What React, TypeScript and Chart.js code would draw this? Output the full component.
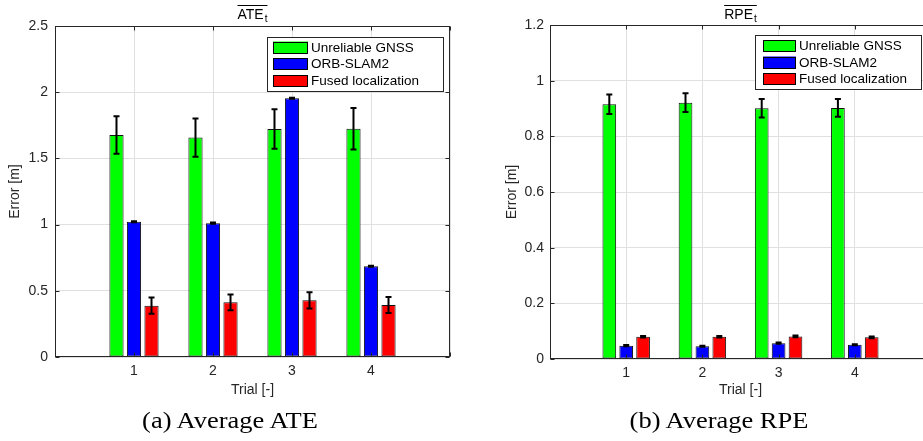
import React, { useEffect, useRef } from 'react';
import { Chart, registerables } from 'chart.js';
Chart.register(...registerables);

// ---------- data ----------
const trialPositions = [1, 2, 3, 4];
const trialLabels = ['1', '2', '3', '4'];
const seriesNames = ['Unreliable GNSS', 'ORB-SLAM2', 'Fused localization'];
const seriesColors = ['#00ff00', '#0000ff', '#ff0000'];

const ateGnss = [1.677, 1.657, 1.722, 1.724];
const ateGnssErr = [0.142, 0.145, 0.149, 0.156];
const ateOrb = [1.021, 1.011, 1.954, 0.685];
const ateOrbErr = [0.004, 0.004, 0.004, 0.004];
const ateFused = [0.388, 0.413, 0.428, 0.393];
const ateFusedErr = [0.061, 0.059, 0.061, 0.06];

const rpeGnss = [0.915, 0.921, 0.901, 0.902];
const rpeGnssErr = [0.035, 0.034, 0.033, 0.032];
const rpeOrb = [0.048, 0.046, 0.057, 0.051];
const rpeOrbErr = [0.002, 0.002, 0.002, 0.002];
const rpeFused = [0.08, 0.08, 0.081, 0.078];
const rpeFusedErr = [0.003, 0.003, 0.003, 0.003];

const ateYTicks = [0, 0.5, 1, 1.5, 2, 2.5];
const rpeYTicks = [0, 0.2, 0.4, 0.6, 0.8, 1, 1.2];

// ---------- styling ----------
const H = 441;
const SANS = '"Liberation Sans", Arial, sans-serif';
const AXIS = '#262626';
const GRID = '#e0e0e0';

type Geo = {
  canvasLeft: number;
  width: number;
  area: { left: number; right: number; top: number; bottom: number };
  yTickPad: number;
  yTitlePad: number;
  legend: { x: number; y: number; w: number; h: number; swatchX: number; swatchW: number; swatchH: number; textX: number; rows: number[] };
};

type PanelProps = {
  geo: Geo;
  title: string;
  sub: string;
  values: number[][];
  errors: number[][];
  yTicks: number[];
};

function Panel({ geo, title, sub, values, errors, yTicks }: PanelProps) {
  const ref = useRef<HTMLCanvasElement | null>(null);
  useEffect(() => {
    const canvas = ref.current;
    if (!canvas) return;
    const { area, legend } = geo;
    const yMin = yTicks[0];
    const yMax = yTicks[yTicks.length - 1];
    const yStep = yTicks[1] - yTicks[0];

    const matlab = {
      id: 'matlabDecor',
      afterDatasetsDraw(chart: any) {
        const ctx = chart.ctx;
        const ys = chart.scales.y;
        const xs = chart.scales.x;
        // error bars
        ctx.save();
        ctx.strokeStyle = '#000';
        ctx.lineWidth = 2;
        values.forEach((vals, s) => {
          const meta = chart.getDatasetMeta(s);
          meta.data.forEach((el: any, i: number) => {
            const v = vals[i];
            const e = errors[s][i];
            const x = el.x;
            const yt = ys.getPixelForValue(v + e);
            const yb = ys.getPixelForValue(v - e);
            ctx.beginPath();
            ctx.moveTo(x, yt);
            ctx.lineTo(x, yb);
            ctx.moveTo(x - 3, yt);
            ctx.lineTo(x + 3, yt);
            ctx.moveTo(x - 3, yb);
            ctx.lineTo(x + 3, yb);
            ctx.stroke();
          });
        });
        ctx.restore();

        // box and inward ticks
        const ca = chart.chartArea;
        const L = Math.round(ca.left) + 0.5;
        const R = Math.round(ca.right) - 0.5;
        const T = Math.round(ca.top) + 0.5;
        const B = Math.round(ca.bottom) - 0.5;
        ctx.save();
        ctx.strokeStyle = AXIS;
        ctx.lineWidth = 1;
        ctx.strokeRect(L, T, R - L, B - T);
        ctx.beginPath();
        xs.ticks.forEach((t: any) => {
          const px = Math.round(xs.getPixelForValue(t.value)) + 0.5;
          ctx.moveTo(px, B);
          ctx.lineTo(px, B - 4);
          ctx.moveTo(px, T);
          ctx.lineTo(px, T + 4);
        });
        ys.ticks.forEach((t: any) => {
          const py = Math.round(ys.getPixelForValue(t.value)) + 0.5;
          ctx.moveTo(L, py);
          ctx.lineTo(L + 4, py);
          ctx.moveTo(R, py);
          ctx.lineTo(R - 4, py);
        });
        ctx.stroke();
        ctx.restore();
      },
      afterDraw(chart: any) {
        const ctx = chart.ctx;
        // legend
        ctx.save();
        ctx.fillStyle = '#fff';
        ctx.fillRect(legend.x, legend.y, legend.w, legend.h);
        ctx.strokeStyle = AXIS;
        ctx.lineWidth = 1;
        ctx.strokeRect(legend.x + 0.5, legend.y + 0.5, legend.w - 1, legend.h - 1);
        ctx.font = '13.5px ' + SANS;
        ctx.textBaseline = 'middle';
        ctx.textAlign = 'left';
        seriesNames.forEach((name, s) => {
          const cy = legend.rows[s];
          ctx.fillStyle = seriesColors[s];
          ctx.fillRect(legend.swatchX, cy - legend.swatchH / 2, legend.swatchW, legend.swatchH);
          ctx.strokeStyle = '#000';
          ctx.strokeRect(legend.swatchX + 0.5, Math.round(cy - legend.swatchH / 2) + 0.5, legend.swatchW - 1, legend.swatchH - 1);
          ctx.fillStyle = '#000';
          ctx.fillText(name, legend.textX, cy + 0.5);
        });
        ctx.restore();

        // title with overline and subscript
        const ca = chart.chartArea;
        const cx = (ca.left + ca.right) / 2;
        ctx.save();
        ctx.fillStyle = '#000';
        ctx.textBaseline = 'alphabetic';
        ctx.textAlign = 'left';
        ctx.font = '14px ' + SANS;
        const wm = ctx.measureText(title).width;
        ctx.font = '10px ' + SANS;
        const ws = ctx.measureText(sub).width;
        const total = wm + ws + 1;
        const x0 = cx - total / 2;
        ctx.font = '14px ' + SANS;
        ctx.fillText(title, x0, 18.5);
        ctx.font = '10px ' + SANS;
        ctx.fillText(sub, x0 + wm + 1, 21.5);
        ctx.strokeStyle = '#000';
        ctx.lineWidth = 1;
        ctx.beginPath();
        ctx.moveTo(x0, 5.5);
        ctx.lineTo(x0 + total, 5.5);
        ctx.stroke();
        ctx.restore();
      },
    };

    const chart = new Chart(canvas, {
      type: 'bar',
      data: {
        datasets: values.map((vals, s) => ({
          label: seriesNames[s],
          data: trialPositions.map((x, i) => ({ x, y: vals[i] })),
          backgroundColor: seriesColors[s],
          borderColor: '#111',
          borderWidth: 1,
          borderSkipped: false,
          categoryPercentage: 0.665,
          barPercentage: 0.81,
        })),
      },
      options: {
        responsive: false,
        animation: false,
        devicePixelRatio: 1,
        layout: { padding: { left: 0, top: area.top, right: geo.width - area.right, bottom: 42 } },
        plugins: { legend: { display: false }, tooltip: { enabled: false }, title: { display: false } },
        scales: {
          x: {
            type: 'linear',
            min: 0,
            max: 5,
            offset: false,
            grid: { color: GRID, offset: false, drawTicks: false, lineWidth: 1 },
            border: { display: false },
            ticks: {
              stepSize: 1,
              padding: 6,
              color: AXIS,
              autoSkip: false,
              maxRotation: 0,
              font: { family: SANS, size: 14 },
              callback: (v: any) => {
                const i = trialPositions.indexOf(Number(v));
                return i >= 0 ? trialLabels[i] : '';
              },
            },
            title: { display: true, text: 'Trial [-]', color: AXIS, font: { family: SANS, size: 14 }, padding: { top: 0, bottom: 0 } },
            afterFit: (s: any) => {
              s.height = H - 42 - area.bottom;
            },
          },
          y: {
            type: 'linear',
            min: yMin,
            max: yMax,
            grid: { color: GRID, drawTicks: false, lineWidth: 1 },
            border: { display: false },
            ticks: {
              stepSize: yStep,
              padding: geo.yTickPad,
              color: AXIS,
              font: { family: SANS, size: 14 },
              callback: (v: any) => String(+Number(v).toFixed(2)),
            },
            title: { display: true, text: 'Error [m]', color: AXIS, font: { family: SANS, size: 14 }, padding: { top: geo.yTitlePad, bottom: 0 } },
            afterFit: (s: any) => {
              s.width = area.left;
            },
          },
        },
      } as any,
      plugins: [matlab],
    });
    return () => chart.destroy();
  }, []);
  return (
    <canvas
      ref={ref}
      width={geo.width}
      height={H}
      style={{ position: 'absolute', left: geo.canvasLeft, top: 0, width: geo.width, height: H }}
    />
  );
}

const leftGeo: Geo = {
  canvasLeft: 0,
  width: 460,
  area: { left: 55, right: 450, top: 26, bottom: 357 },
  yTickPad: 7,
  yTitlePad: 6.6,
  legend: { x: 267, y: 37, w: 177, h: 55, swatchX: 273, swatchW: 35, swatchH: 12, textX: 311, rows: [47.5, 64, 81] },
};

const rightGeo: Geo = {
  canvasLeft: 490,
  width: 450,
  area: { left: 60, right: 441, top: 25, bottom: 359 },
  yTickPad: 6,
  yTitlePad: 13.6,
  legend: { x: 265, y: 35, w: 167, h: 55, swatchX: 273, swatchW: 33, swatchH: 12, textX: 309, rows: [46, 62.5, 79] },
};

const captionStyle = (cx: number): React.CSSProperties => ({
  position: 'absolute',
  left: cx - 150,
  top: 409,
  width: 300,
  textAlign: 'center',
  fontFamily: '"Liberation Serif", "Times New Roman", serif',
  fontSize: 23,
  lineHeight: '23px',
  color: '#000',
  transform: 'scaleX(1.15)',
  transformOrigin: 'center',
  whiteSpace: 'nowrap',
});

export default function App() {
  return (
    <div style={{ position: 'fixed', left: 0, top: 0, width: 923, height: 441, overflow: 'hidden', background: '#fff' }}>
      <Panel
        geo={leftGeo}
        title="ATE"
        sub="t"
        values={[ateGnss, ateOrb, ateFused]}
        errors={[ateGnssErr, ateOrbErr, ateFusedErr]}
        yTicks={ateYTicks}
      />
      <Panel
        geo={rightGeo}
        title="RPE"
        sub="t"
        values={[rpeGnss, rpeOrb, rpeFused]}
        errors={[rpeGnssErr, rpeOrbErr, rpeFusedErr]}
        yTicks={rpeYTicks}
      />
      <div style={captionStyle(230)}>(a) Average ATE</div>
      <div style={captionStyle(718.5)}>(b) Average RPE</div>
    </div>
  );
}
